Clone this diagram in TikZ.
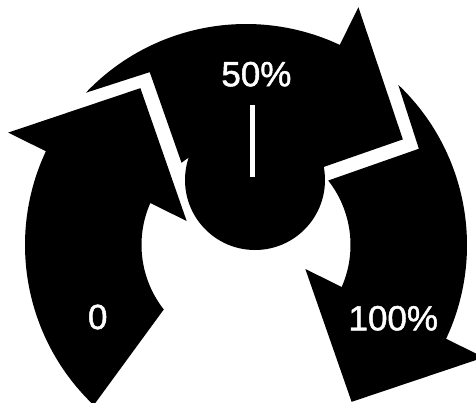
\documentclass[tikz,border=0pt]{standalone}
\usepackage{fontspec}
\setmainfont{Liberation Sans}
\newfontfamily\lblfont[FakeBold=1.3]{Liberation Sans}
\begin{document}
\begin{tikzpicture}[x=1pt,y=1pt]
\tikzset{
  arrowbody/.style={fill=black},
  hub/.style={fill=black},
  needle/.style={draw=white, line width=5pt},
  lbl/.style={text=white, font=\lblfont\fontsize{35}{40}\selectfont, inner sep=0pt, anchor=center}
}
\useasboundingbox (-246,-157) rectangle (230,245);
\clip (-246,-157) rectangle (230,245);
% middle arrow (50%)
\begin{scope}[rotate=65]
\path[arrowbody] (263,-1.4) -- (162,-97.5) -- (63.9,3.35) -- (104.47,2.37)
  arc[start angle=1.3, end angle=63.1, radius=104.5] -- (116,160.3) -- (71.45:221)
  arc[start angle=71.45, end angle=-0.1, radius=221] -- cycle;
\end{scope}
% right arrow (100%)
\begin{scope}[rotate=-25]
\path[arrowbody] (263,-1.4) -- (162,-97.5) -- (63.9,3.35) -- (104.47,2.37)
  arc[start angle=1.3, end angle=63.1, radius=104.5] -- (116,160.3) -- (71.45:221)
  arc[start angle=71.45, end angle=-0.1, radius=221] -- cycle;
\end{scope}
% left arrow (0)
\begin{scope}[rotate=155]
\path[arrowbody] (263,-1.4) -- (162,-97.5) -- (63.9,3.35) -- (104.47,2.37)
  arc[start angle=1.3, end angle=63.1, radius=104.5] -- (71.45:221)
  arc[start angle=71.45, end angle=-0.1, radius=221] -- cycle;
\end{scope}
% hub
\path[hub] (9,65) circle[radius=70];
\coordinate (ntop) at (6.5,140);
\coordinate (nbot) at (6.5,68);
\draw[needle] (ntop) -- (nbot);
\node[lbl] (t50) at (10.4,170.8) {50\%};
\node[lbl] (t0) at (-148.3,-72) {0};
\node[lbl] (t100) at (147.3,-73.3) {100\%};
\end{tikzpicture}
\end{document}
